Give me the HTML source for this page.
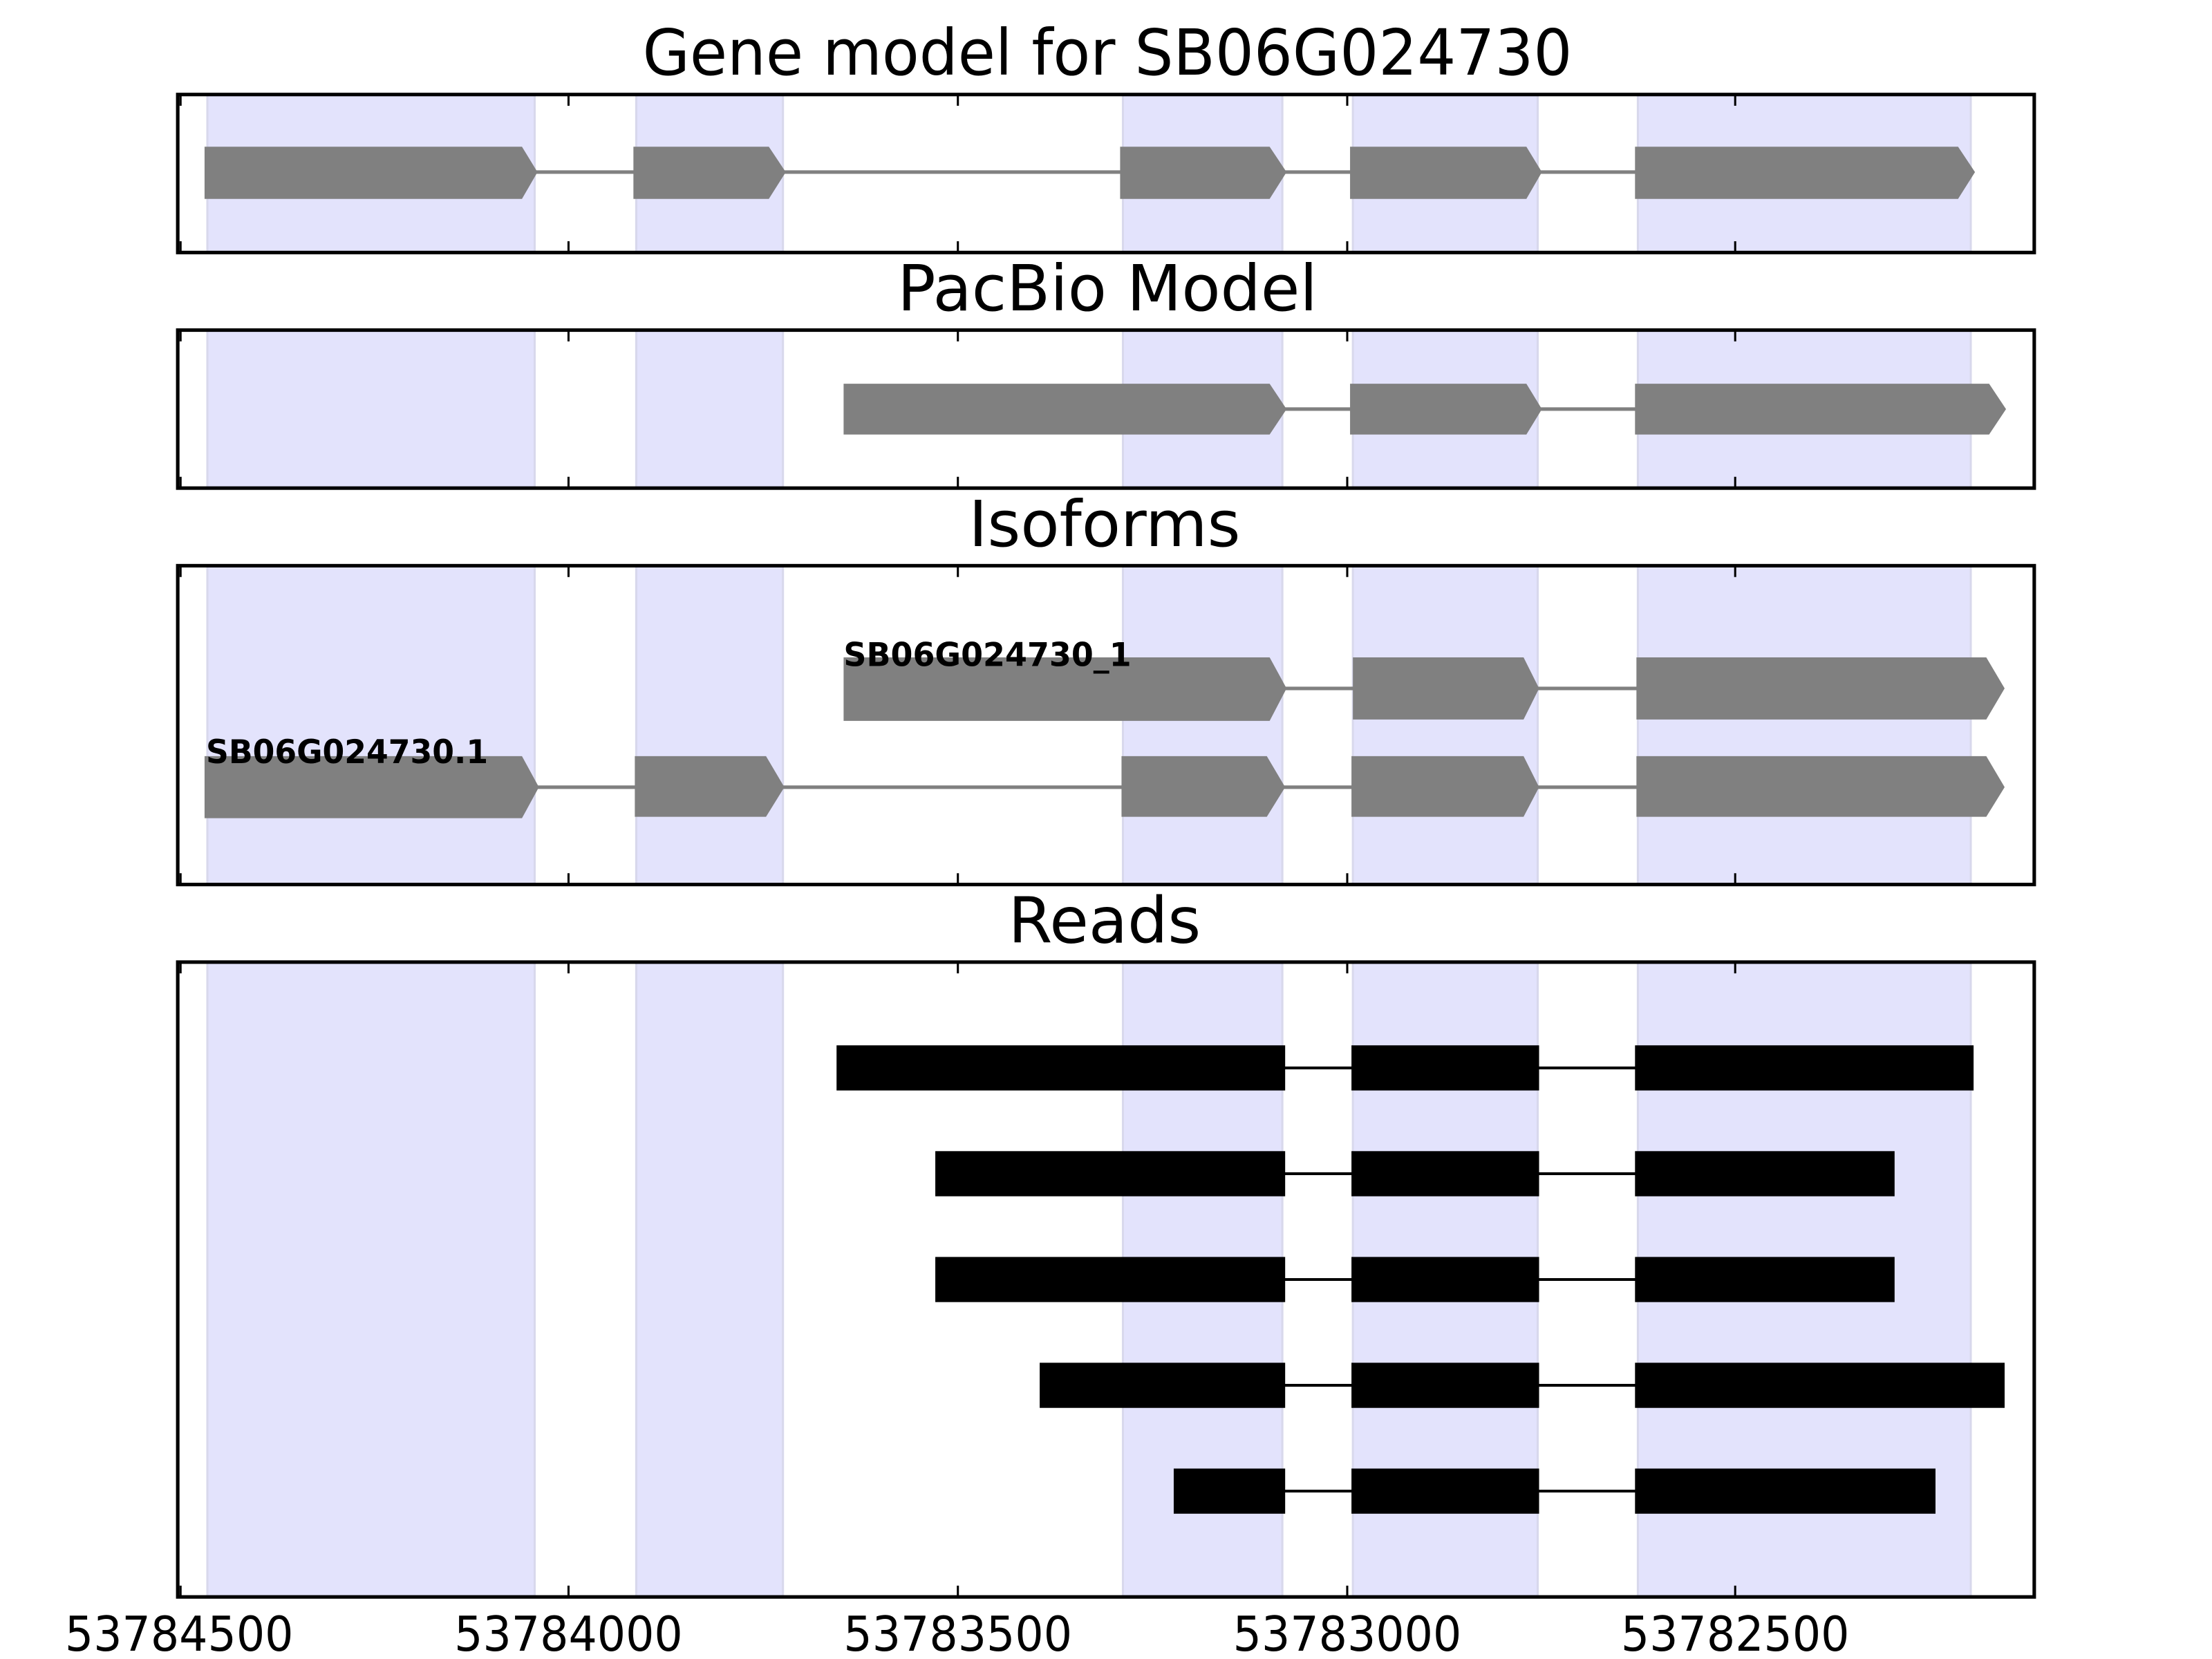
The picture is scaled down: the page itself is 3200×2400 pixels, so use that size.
<!DOCTYPE html>
<html><head><meta charset="utf-8"><style>html,body{margin:0;padding:0;background:#fff}svg{display:block}</style></head>
<body>
<svg width="3200" height="2400" viewBox="0 0 1568 1176" xmlns="http://www.w3.org/2000/svg" font-family="DejaVu Sans, Liberation Sans, sans-serif">
<rect width="1568" height="1176" fill="#fff"/>
<!-- titles -->
<text x="785" y="53" font-size="45" text-anchor="middle" textLength="659" lengthAdjust="spacingAndGlyphs">Gene model for SB06G024730</text>
<text x="785" y="220" font-size="45" text-anchor="middle">PacBio Model</text>
<text x="783" y="387" font-size="45" text-anchor="middle">Isoforms</text>
<text x="783" y="668" font-size="45" text-anchor="middle">Reads</text>

<g fill="#e3e3fc" stroke="#d8d8ec" stroke-width="1.5">
<rect x="147" y="67" width="232" height="112"/><rect x="451" y="67" width="104" height="112"/><rect x="796" y="67" width="113" height="112"/><rect x="959" y="67" width="131" height="112"/><rect x="1161" y="67" width="236" height="112"/>
<rect x="147" y="234" width="232" height="112"/><rect x="451" y="234" width="104" height="112"/><rect x="796" y="234" width="113" height="112"/><rect x="959" y="234" width="131" height="112"/><rect x="1161" y="234" width="236" height="112"/>
<rect x="147" y="401" width="232" height="226"/><rect x="451" y="401" width="104" height="226"/><rect x="796" y="401" width="113" height="226"/><rect x="959" y="401" width="131" height="226"/><rect x="1161" y="401" width="236" height="226"/>
<rect x="147" y="682" width="232" height="450"/><rect x="451" y="682" width="104" height="450"/><rect x="796" y="682" width="113" height="450"/><rect x="959" y="682" width="131" height="450"/><rect x="1161" y="682" width="236" height="450"/>
</g>

<g stroke="#808080" stroke-width="2.5"><line x1="375" y1="122" x2="1390" y2="122"/></g>
<g fill="#808080">
<polygon points="145,104 370,104 381,122 370,141 145,141"/>
<polygon points="449,104 545,104 557,122 545,141 449,141"/>
<polygon points="794,104 900,104 912,122 900,141 794,141"/>
<polygon points="957,104 1082,104 1093,122 1082,141 957,141"/>
<polygon points="1159,104 1388,104 1400,122 1388,141 1159,141"/>
</g>

<g stroke="#808080" stroke-width="2.5"><line x1="905" y1="290" x2="1165" y2="290"/></g>
<g fill="#808080">
<polygon points="598,272 900,272 912,290 900,308 598,308"/>
<polygon points="957,272 1082,272 1093,290 1082,308 957,308"/>
<polygon points="1159,272 1410,272 1422,290 1410,308 1159,308"/>
</g>

<g stroke="#808080" stroke-width="2.5"><line x1="905" y1="488" x2="1165" y2="488"/><line x1="375" y1="558" x2="1165" y2="558"/></g>
<g fill="#808080">
<polygon points="598,466 900,466 912,488 900,511 598,511"/>
<polygon points="959,466 1080,466 1091,488 1080,510 959,510"/>
<polygon points="1160,466 1408,466 1421,488 1408,510 1160,510"/>
<polygon points="145,536 370,536 382,558 370,580 145,580"/>
<polygon points="450,536 543,536 556,558 543,579 450,579"/>
<polygon points="795,536 898,536 911,558 898,579 795,579"/>
<polygon points="958,536 1080,536 1091,558 1080,579 958,579"/>
<polygon points="1160,536 1408,536 1421,558 1408,579 1160,579"/>
</g>
<g font-weight="bold" font-size="23" fill="#000">
<text x="598" y="472" textLength="204" lengthAdjust="spacingAndGlyphs">SB06G024730_1</text>
<text x="146" y="541" textLength="200" lengthAdjust="spacingAndGlyphs">SB06G024730.1</text>
</g>

<g stroke="#000" stroke-width="2">
<line x1="905" y1="757" x2="1165" y2="757"/><line x1="905" y1="832" x2="1165" y2="832"/><line x1="905" y1="907" x2="1165" y2="907"/><line x1="905" y1="982" x2="1165" y2="982"/><line x1="905" y1="1057" x2="1165" y2="1057"/>
</g>
<g fill="#000">
<rect x="593" y="741" width="318" height="32"/><rect x="958" y="741" width="133" height="32"/><rect x="1159" y="741" width="240" height="32"/>
<rect x="663" y="816" width="248" height="32"/><rect x="958" y="816" width="133" height="32"/><rect x="1159" y="816" width="184" height="32"/>
<rect x="663" y="891" width="248" height="32"/><rect x="958" y="891" width="133" height="32"/><rect x="1159" y="891" width="184" height="32"/>
<rect x="737" y="966" width="174" height="32"/><rect x="958" y="966" width="133" height="32"/><rect x="1159" y="966" width="262" height="32"/>
<rect x="832" y="1041" width="79" height="32"/><rect x="958" y="1041" width="133" height="32"/><rect x="1159" y="1041" width="213" height="32"/>
</g>

<g fill="none" stroke="#000" stroke-width="2.5">
<rect x="126" y="67" width="1316" height="112"/>
<rect x="126" y="234" width="1316" height="112"/>
<rect x="126" y="401" width="1316" height="226"/>
<rect x="126" y="682" width="1316" height="450"/>
</g>
<g stroke="#000" stroke-width="1.5">
<path d="M128,67v8M403,67v8M679,67v8M955,67v8M1230,67v8M128,179v-8M403,179v-8M679,179v-8M955,179v-8M1230,179v-8"/>
<path d="M128,234v8M403,234v8M679,234v8M955,234v8M1230,234v8M128,346v-8M403,346v-8M679,346v-8M955,346v-8M1230,346v-8"/>
<path d="M128,401v8M403,401v8M679,401v8M955,401v8M1230,401v8M128,627v-8M403,627v-8M679,627v-8M955,627v-8M1230,627v-8"/>
<path d="M128,682v8M403,682v8M679,682v8M955,682v8M1230,682v8M128,1132v-8M403,1132v-8M679,1132v-8M955,1132v-8M1230,1132v-8"/>
</g>
<g font-size="34" text-anchor="middle" fill="#000">
<text x="127" y="1170" textLength="162" lengthAdjust="spacingAndGlyphs">53784500</text>
<text x="403" y="1170" textLength="162" lengthAdjust="spacingAndGlyphs">53784000</text>
<text x="679" y="1170" textLength="162" lengthAdjust="spacingAndGlyphs">53783500</text>
<text x="955" y="1170" textLength="162" lengthAdjust="spacingAndGlyphs">53783000</text>
<text x="1230" y="1170" textLength="162" lengthAdjust="spacingAndGlyphs">53782500</text>
</g>
</svg>
</body></html>
